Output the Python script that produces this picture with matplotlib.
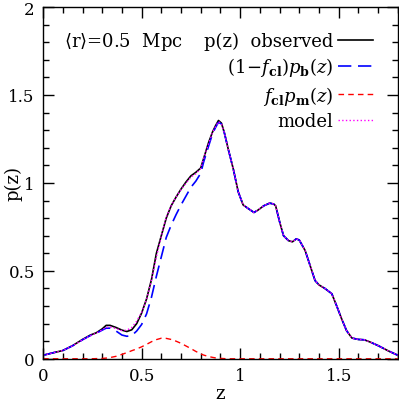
import numpy as np
import matplotlib
matplotlib.use('Agg')
import matplotlib.pyplot as plt
from matplotlib.ticker import MultipleLocator

plt.rcParams['font.family'] = 'DejaVu Serif'
plt.rcParams['mathtext.fontset'] = 'dejavuserif'

# redshift grid and the curves
z = [0.00, 0.05, 0.10, 0.15, 0.20, 0.24, 0.27, 0.30, 0.32, 0.34, 0.37, 0.40,
     0.425, 0.45, 0.475, 0.50, 0.525, 0.55, 0.575, 0.60, 0.625, 0.65, 0.675, 0.70,
     0.725, 0.75, 0.775, 0.80, 0.815, 0.84, 0.86, 0.875, 0.89, 0.905, 0.92, 0.94,
     0.965, 0.99, 1.015, 1.04, 1.07, 1.09, 1.12, 1.15, 1.17, 1.18, 1.20, 1.22,
     1.245, 1.265, 1.285, 1.30, 1.33, 1.355, 1.38, 1.40, 1.43, 1.465, 1.49, 1.515,
     1.54, 1.567, 1.60, 1.63, 1.66, 1.70, 1.75, 1.80]

tail = [1.19, 1.08, 0.95, 0.875, 0.855, 0.832, 0.845, 0.87, 0.885, 0.88, 0.87, 0.78, 0.70,
        0.672, 0.665, 0.682, 0.675, 0.615, 0.53, 0.445, 0.42, 0.40, 0.37, 0.30, 0.227,
        0.16, 0.118, 0.11, 0.108, 0.095, 0.075, 0.046, 0.02]

p_obs = [0.02, 0.034, 0.047, 0.075, 0.11, 0.135, 0.148, 0.17, 0.19, 0.19, 0.178, 0.163,
         0.155, 0.165, 0.20, 0.26, 0.34, 0.45, 0.60, 0.70, 0.80, 0.87, 0.92, 0.965,
         1.005, 1.04, 1.06, 1.085, 1.14, 1.23, 1.29, 1.325, 1.355, 1.34, 1.285] + tail

p_back = [0.02, 0.034, 0.047, 0.074, 0.108, 0.132, 0.145, 0.163, 0.174, 0.174, 0.158, 0.135,
          0.128, 0.132, 0.158, 0.195, 0.255, 0.35, 0.47, 0.58, 0.69, 0.76, 0.82, 0.875,
          0.925, 0.975, 1.01, 1.055, 1.12, 1.21, 1.28, 1.315, 1.345, 1.335, 1.283] + tail

p_memb = [0.0, 0.0, 0.0, 0.0, 0.0, 0.0, 0.001, 0.002, 0.004, 0.007, 0.014, 0.025,
          0.035, 0.046, 0.056, 0.068, 0.082, 0.097, 0.109, 0.117, 0.116, 0.11, 0.10, 0.088,
          0.073, 0.058, 0.042, 0.028, 0.021, 0.013, 0.008, 0.005, 0.003, 0.002, 0.001] \
    + [0.0] * len(tail)

p_model = [0.02, 0.034, 0.047, 0.074, 0.108, 0.132, 0.146, 0.165, 0.178, 0.181, 0.172, 0.16,
           0.163, 0.178, 0.214, 0.263, 0.337, 0.447, 0.579, 0.697, 0.806, 0.87, 0.92, 0.963,
           0.998, 1.033, 1.052, 1.083, 1.141, 1.223, 1.288, 1.32, 1.348, 1.337, 1.284] + tail

fig = plt.figure(figsize=(3.99, 4.02), dpi=100)
ax = fig.add_axes([0.108, 0.105, 0.889, 0.875])

ax.plot(z, p_obs, color='black', lw=1.2, label='p(z)  observed')
ax.plot(z, p_back, color='blue', lw=1.2, dashes=(8, 4),
        label=r'$(1\!-\!f_{\mathbf{cl}})p_{\mathbf{b}}(z)$')
ax.plot(z, p_memb, color='red', lw=1.0, dashes=(4, 3),
        label=r'$f_{\mathbf{cl}}p_{\mathbf{m}}(z)$')
ax.plot(z, p_model, color='magenta', lw=1.0, ls=':', label='model')

ax.set_xlim(0, 1.8)
ax.set_ylim(0, 2)
ax.xaxis.set_major_locator(MultipleLocator(0.5))
ax.xaxis.set_minor_locator(MultipleLocator(0.1))
ax.yaxis.set_major_locator(MultipleLocator(0.5))
ax.yaxis.set_minor_locator(MultipleLocator(0.1))
ax.xaxis.set_major_formatter(lambda v, pos: f'{v:g}')
ax.yaxis.set_major_formatter(lambda v, pos: f'{v:g}')
ax.tick_params(which='both', direction='in', top=True, right=True, labelsize=12)
ax.tick_params(which='major', length=8, width=1, pad=6)
ax.tick_params(which='minor', length=4, width=1)
for s in ax.spines.values():
    s.set_linewidth(1)

ax.set_xlabel('z', fontsize=13, labelpad=0)
ax.set_ylabel('p(z)', fontsize=13)
ax.yaxis.set_label_coords(-0.057, 0.5)

ax.text(0.058, 0.903, r'$\langle$r$\rangle$=0.5  Mpc', transform=ax.transAxes,
        fontsize=13, va='center', ha='left')

ax.legend(loc='upper right', bbox_to_anchor=(0.929, 0.93), markerfirst=False,
          frameon=False, fontsize=13, handlelength=1.9, handletextpad=0.3,
          labelspacing=0.3, borderpad=0, borderaxespad=0)

fig.savefig('out.png', dpi=100)
